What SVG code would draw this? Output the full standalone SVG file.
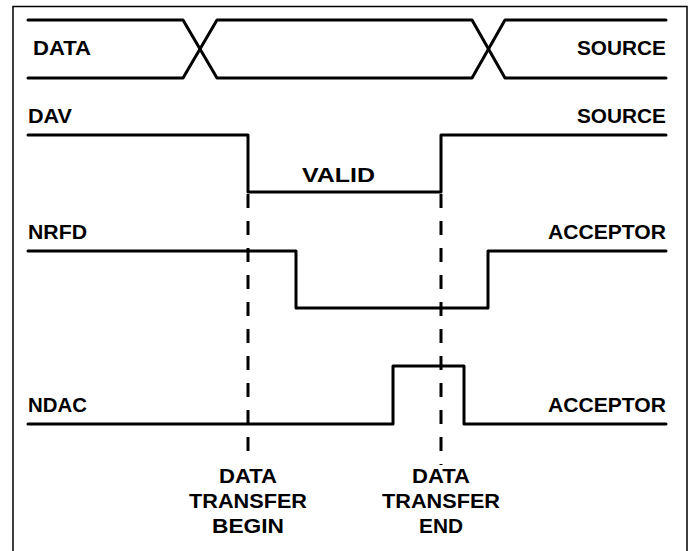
<svg xmlns="http://www.w3.org/2000/svg" width="689" height="551" viewBox="0 0 689 551">
<style>
.sig{fill:none;stroke:#000;stroke-width:3;stroke-linejoin:round;stroke-linecap:round}
.dash{fill:none;stroke:#000;stroke-width:3;stroke-dasharray:14 13}
.lbl{font-family:"Liberation Sans",Arial,sans-serif;font-weight:bold;font-size:19.5px;fill:#000}
</style>
<rect width="689" height="551" fill="#fff"/>
<rect x="13" y="6.5" width="674" height="550" fill="none" stroke="#000" stroke-width="1.5"/>
<g id="data">
<path class="sig" d="M28,20 H183 L217,78 H472 L505,20 H666"/>
<path class="sig" d="M28,78 H183 L217,20 H472 L505,78 H666"/>
<text class="lbl" x="33" y="55" textLength="58" lengthAdjust="spacingAndGlyphs">DATA</text>
<text class="lbl" x="577" y="55" textLength="89" lengthAdjust="spacingAndGlyphs">SOURCE</text>
</g>
<g id="dav">
<path class="sig" d="M28,135 H248 V192 H441 V135 H666"/>
<text class="lbl" x="28" y="123" textLength="44" lengthAdjust="spacingAndGlyphs">DAV</text>
<text class="lbl" x="577" y="123" textLength="89" lengthAdjust="spacingAndGlyphs">SOURCE</text>
<text class="lbl" x="302" y="182" textLength="73" lengthAdjust="spacingAndGlyphs">VALID</text>
</g>
<g id="nrfd">
<path class="sig" d="M28,251 H296 V308 H488 V251 H666"/>
<text class="lbl" x="28" y="239" textLength="59" lengthAdjust="spacingAndGlyphs">NRFD</text>
<text class="lbl" x="548" y="239" textLength="118" lengthAdjust="spacingAndGlyphs">ACCEPTOR</text>
</g>
<g id="ndac">
<path class="sig" d="M28,424 H393 V366 H464 V424 H666"/>
<text class="lbl" x="28" y="412" textLength="59" lengthAdjust="spacingAndGlyphs">NDAC</text>
<text class="lbl" x="548" y="412" textLength="118" lengthAdjust="spacingAndGlyphs">ACCEPTOR</text>
</g>
<g id="connectors">
<line class="dash" x1="248" y1="194" x2="248" y2="462"/>
<line class="dash" x1="441" y1="194" x2="441" y2="465"/>
</g>
<g id="begin">
<text class="lbl" x="219" y="483" textLength="58" lengthAdjust="spacingAndGlyphs">DATA</text>
<text class="lbl" x="189" y="508" textLength="118" lengthAdjust="spacingAndGlyphs">TRANSFER</text>
<text class="lbl" x="212" y="533" textLength="72" lengthAdjust="spacingAndGlyphs">BEGIN</text>
</g>
<g id="end">
<text class="lbl" x="412" y="483" textLength="58" lengthAdjust="spacingAndGlyphs">DATA</text>
<text class="lbl" x="382" y="508" textLength="118" lengthAdjust="spacingAndGlyphs">TRANSFER</text>
<text class="lbl" x="419" y="533" textLength="44" lengthAdjust="spacingAndGlyphs">END</text>
</g>
</svg>
